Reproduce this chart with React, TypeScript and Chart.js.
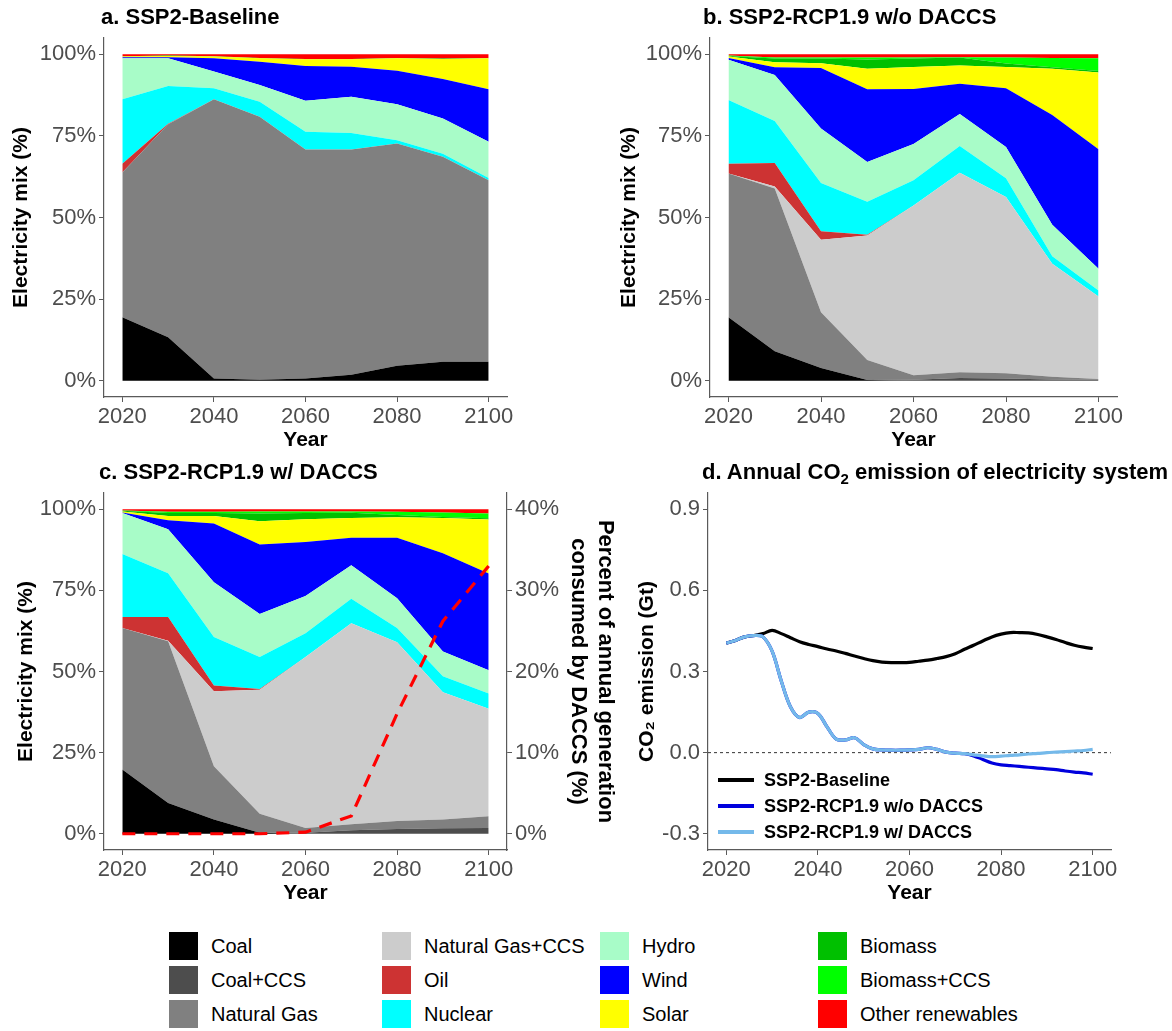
import React, { useEffect, useRef } from 'react';
import { Chart, registerables } from 'chart.js';

Chart.register(...registerables);

const FONT = "'Liberation Sans', Arial, Helvetica, sans-serif";
Chart.defaults.font.family = FONT;

// ---------- shared ----------
const YEARS = [2020, 2030, 2040, 2050, 2060, 2070, 2080, 2090, 2100];
const X_TICKS = [2020, 2040, 2060, 2080, 2100];
const PCT_TICKS = [0, 25, 50, 75, 100];
const DACCS_TICKS = [0, 10, 20, 30, 40];
const CO2_TICKS = [-0.3, 0, 0.3, 0.6, 0.9];
const ZERO_LINE = 0;

const CATEGORIES = [
  'Coal', 'Coal+CCS', 'Natural Gas', 'Natural Gas+CCS', 'Oil', 'Nuclear',
  'Hydro', 'Wind', 'Solar', 'Biomass', 'Biomass+CCS', 'Other renewables',
];
const COLORS = [
  '#000000', '#4d4d4d', '#808080', '#cccccc', '#cd3333', '#00ffff',
  '#a8fcc8', '#0000ff', '#ffff00', '#00c000', '#00ff00', '#ff0000',
];

// ---------- panel a: SSP2-Baseline (% of generation) ----------
const A_COAL = [19.4, 13.3, 0.7, 0.3, 0.7, 1.8, 4.6, 5.8, 5.8];
const A_COAL_CCS = [0, 0, 0, 0, 0, 0, 0, 0, 0];
const A_GAS = [44.4, 65.3, 85.5, 80.6, 70.1, 69.0, 68.1, 62.8, 55.6];
const A_GAS_CCS = [0, 0, 0, 0, 0, 0, 0, 0, 0];
const A_OIL = [2.7, 0.1, 0, 0, 0, 0, 0, 0, 0];
const A_NUCLEAR = [19.7, 11.6, 3.4, 4.6, 5.5, 5.1, 1.0, 0.9, 0.7];
const A_HYDRO = [12.6, 8.5, 5.1, 5.1, 9.5, 11.1, 11.0, 10.8, 11.1];
const A_WIND = [0.3, 0.3, 4.1, 7.1, 10.6, 9.2, 10.3, 12.1, 16.1];
const A_SOLAR = [0.2, 0.4, 0.5, 1.1, 2.1, 2.3, 3.8, 6.2, 9.5];
const A_BIOMASS = [0.1, 0.1, 0.1, 0.1, 0.1, 0.1, 0.1, 0.1, 0.1];
const A_BIOMASS_CCS = [0, 0, 0, 0, 0, 0, 0, 0, 0];
const A_OTHER = [0.6, 0.4, 0.6, 1.1, 1.4, 1.4, 1.1, 1.3, 1.1];

// ---------- panel b: SSP2-RCP1.9 w/o DACCS ----------
const B_COAL = [19.4, 9.0, 3.9, 0.2, 0, 0, 0, 0, 0];
const B_COAL_CCS = [0, 0, 0, 0, 0.3, 0.8, 0.7, 0.4, 0.3];
const B_GAS = [44.1, 49.9, 17.1, 6.1, 1.4, 1.8, 1.6, 0.8, 0.2];
const B_GAS_CCS = [0, 0.6, 22.2, 38.2, 52.0, 61.1, 54.0, 34.6, 25.3];
const B_OIL = [3.0, 7.2, 2.6, 0.2, 0, 0, 0, 0, 0];
const B_NUCLEAR = [19.5, 12.9, 14.8, 10.1, 7.7, 8.2, 5.7, 2.3, 1.8];
const B_HYDRO = [12.3, 14.1, 16.7, 12.2, 11.1, 9.8, 9.6, 9.7, 6.7];
const B_WIND = [0.6, 2.3, 18.5, 22.3, 16.9, 9.3, 18.0, 33.6, 36.6];
const B_SOLAR = [0.4, 1.6, 1.5, 6.3, 6.7, 5.6, 6.5, 14.2, 23.5];
const B_BIOMASS = [0.2, 1.1, 1.4, 2.8, 2.6, 2.4, 1.1, 0.4, 0.5];
const B_BIOMASS_CCS = [0.1, 0.3, 0.3, 0.6, 0.3, 0.1, 1.8, 2.9, 3.9];
const B_OTHER = [0.4, 1.0, 1.0, 1.0, 1.0, 0.9, 1.0, 1.1, 1.2];

// ---------- panel c: SSP2-RCP1.9 w/ DACCS ----------
const C_COAL = [19.8, 9.5, 4.4, 0.3, 0, 0, 0, 0, 0];
const C_COAL_CCS = [0, 0, 0, 0, 0.3, 1.1, 1.5, 1.7, 1.8];
const C_GAS = [43.6, 49.8, 16.4, 5.9, 1.5, 1.8, 2.4, 2.7, 3.6];
const C_GAS_CCS = [0, 0.2, 23.1, 38.2, 52.7, 62.0, 55.1, 39.2, 33.1];
const C_OIL = [3.4, 7.3, 1.8, 0.2, 0, 0, 0, 0, 0];
const C_NUCLEAR = [19.4, 13.5, 14.9, 9.9, 7.3, 7.5, 4.4, 4.9, 4.7];
const C_HYDRO = [12.6, 13.5, 16.9, 13.2, 11.5, 10.3, 9.2, 7.7, 7.2];
const C_WIND = [0.2, 2.8, 18.1, 21.4, 16.6, 8.5, 18.6, 30.2, 29.8];
const C_SOLAR = [0.3, 1.3, 2.3, 7.2, 7.0, 6.1, 6.3, 10.9, 16.6];
const C_BIOMASS = [0.2, 0.9, 0.9, 2.4, 1.9, 1.6, 0.7, 0.3, 0.4];
const C_BIOMASS_CCS = [0.1, 0.4, 0.4, 0.6, 0.5, 0.4, 1.0, 1.4, 1.5];
const C_OTHER = [0.4, 0.8, 0.8, 0.7, 0.7, 0.7, 0.8, 1.0, 1.3];
// percent of annual generation consumed by DACCS (right axis)
const C_DACCS = [0, 0, 0, 0, 0.2, 2.2, 14.8, 26.2, 33.0];

// ---------- panel d: annual CO2 emission (Gt) ----------
const D_YEARS = [
  2020, 2022, 2024, 2026, 2028, 2030, 2032, 2034, 2036, 2038, 2040,
  2042, 2044, 2046, 2048, 2050, 2052, 2054, 2056, 2058, 2060,
  2062, 2064, 2066, 2068, 2070, 2072, 2074, 2076, 2078, 2080,
  2082, 2084, 2086, 2088, 2090, 2092, 2094, 2096, 2098, 2100,
];
const D_BASELINE = [
  0.405, 0.415, 0.428, 0.433, 0.440, 0.452, 0.440, 0.425, 0.410, 0.400, 0.392,
  0.383, 0.376, 0.367, 0.357, 0.348, 0.340, 0.335, 0.333, 0.333, 0.334,
  0.338, 0.342, 0.348, 0.355, 0.366, 0.382, 0.397, 0.413, 0.428, 0.438,
  0.444, 0.444, 0.443, 0.437, 0.428, 0.418, 0.407, 0.397, 0.390, 0.385,
];
const D_NO_DACCS = [
  0.405, 0.415, 0.428, 0.433, 0.428, 0.375, 0.265, 0.170, 0.130, 0.150, 0.145,
  0.095, 0.050, 0.047, 0.055, 0.030, 0.014, 0.010, 0.009, 0.009, 0.010,
  0.012, 0.018, 0.012, 0.002, -0.002, -0.004, -0.012, -0.025, -0.038, -0.045,
  -0.048, -0.051, -0.054, -0.057, -0.060, -0.063, -0.068, -0.072, -0.075, -0.080,
];
const D_DACCS = [
  0.405, 0.415, 0.428, 0.433, 0.428, 0.375, 0.265, 0.170, 0.130, 0.150, 0.145,
  0.095, 0.050, 0.047, 0.055, 0.030, 0.014, 0.010, 0.009, 0.009, 0.010,
  0.012, 0.018, 0.012, 0.002, -0.002, -0.004, -0.008, -0.012, -0.015, -0.013,
  -0.010, -0.008, -0.005, -0.003, 0.000, 0.002, 0.004, 0.006, 0.008, 0.012,
];
const D_NAMES = ['SSP2-Baseline', 'SSP2-RCP1.9 w/o DACCS', 'SSP2-RCP1.9 w/ DACCS'];
const D_COLORS = ['#000000', '#0000dd', '#74b9ea'];

const A_SERIES = [A_COAL, A_COAL_CCS, A_GAS, A_GAS_CCS, A_OIL, A_NUCLEAR, A_HYDRO, A_WIND, A_SOLAR, A_BIOMASS, A_BIOMASS_CCS, A_OTHER];
const B_SERIES = [B_COAL, B_COAL_CCS, B_GAS, B_GAS_CCS, B_OIL, B_NUCLEAR, B_HYDRO, B_WIND, B_SOLAR, B_BIOMASS, B_BIOMASS_CCS, B_OTHER];
const C_SERIES = [C_COAL, C_COAL_CCS, C_GAS, C_GAS_CCS, C_OIL, C_NUCLEAR, C_HYDRO, C_WIND, C_SOLAR, C_BIOMASS, C_BIOMASS_CCS, C_OTHER];

// ---------- styles ----------
const TICK_COLOR = '#4d4d4d';
const AXIS_COLOR = '#5a5a5a';
const TICK_FONT = { size: 22, family: FONT };
const TITLE_FONT = { size: 21, weight: 'bold' as const, family: FONT };

const fixedTicks = (values: number[]) => (scale: any) => {
  scale.ticks = values.map((v) => ({ value: v }));
};

const axisCommon = {
  grid: { drawOnChartArea: false, drawTicks: true, tickLength: 5, color: AXIS_COLOR, lineWidth: 1 },
  border: { display: true, color: AXIS_COLOR, width: 1.2 },
};

function xScale(xHeight: number) {
  return {
    type: 'linear',
    min: 2016,
    max: 2104,
    afterBuildTicks: fixedTicks(X_TICKS),
    afterFit: (s: any) => { s.height = xHeight; },
    ...axisCommon,
    ticks: { font: TICK_FONT, color: TICK_COLOR, padding: 2, maxRotation: 0, autoSkip: false, callback: (v: any) => String(v) },
    title: { display: true, text: 'Year', font: TITLE_FONT, color: '#000', padding: { top: 0, bottom: 4 } },
  };
}

interface MixLayout {
  yWidth: number; xHeight: number; padTop: number; padRight: number; yTitlePad: number;
  daccs?: number[]; y2Width?: number;
}

function mixConfig(series: number[][], L: MixLayout): any {
  const datasets: any[] = series.map((vals, i) => ({
    type: 'line',
    label: CATEGORIES[i],
    data: YEARS.map((yr, j) => ({ x: yr, y: vals[j] })),
    backgroundColor: COLORS[i],
    borderColor: 'rgba(0,0,0,0)',
    borderWidth: 0,
    pointRadius: 0,
    pointHoverRadius: 0,
    tension: 0,
    fill: i === 0 ? 'origin' : '-1',
    yAxisID: 'y',
    stack: 'mix',
  }));
  const scales: any = {
    x: xScale(L.xHeight),
    y: {
      type: 'linear',
      stacked: true,
      min: -5,
      max: 105,
      afterBuildTicks: fixedTicks(PCT_TICKS),
      afterFit: (s: any) => { s.width = L.yWidth; },
      ...axisCommon,
      ticks: { font: TICK_FONT, color: TICK_COLOR, padding: 3, autoSkip: false, callback: (v: any) => `${v}%` },
      title: { display: true, text: 'Electricity mix (%)', font: TITLE_FONT, color: '#000', padding: { top: L.yTitlePad, bottom: 0 } },
    },
  };
  if (L.daccs) {
    datasets.push({
      type: 'line',
      label: 'DACCS',
      data: YEARS.map((yr, j) => ({ x: yr, y: L.daccs![j] })),
      borderColor: '#ff0000',
      borderWidth: 3.2,
      borderDash: [13, 9],
      pointRadius: 0,
      fill: false,
      tension: 0,
      yAxisID: 'y2',
      order: -1,
    });
    scales.y2 = {
      type: 'linear',
      position: 'right',
      min: -2,
      max: 42,
      afterBuildTicks: fixedTicks(DACCS_TICKS),
      afterFit: (s: any) => { s.width = L.y2Width; },
      ...axisCommon,
      ticks: { font: TICK_FONT, color: TICK_COLOR, padding: 3, autoSkip: false, callback: (v: any) => `${v}%` },
      title: {
        display: true,
        text: ['Percent of annual generation', 'consumed by DACCS (%)'],
        font: { size: 22, weight: 'bold', family: FONT },
        color: '#000',
        padding: { top: 2, bottom: 0 },
      },
    };
  }
  return {
    type: 'line',
    data: { datasets },
    options: {
      animation: false,
      responsive: false,
      maintainAspectRatio: false,
      layout: { padding: { top: L.padTop, right: L.padRight, left: 0, bottom: 0 } },
      plugins: { legend: { display: false }, tooltip: { enabled: false }, title: { display: false } },
      scales,
    },
  };
}

const zeroLinePlugin = {
  id: 'zeroLine',
  beforeDatasetsDraw(chart: any) {
    const { ctx, chartArea, scales } = chart;
    const y = scales.y.getPixelForValue(ZERO_LINE);
    ctx.save();
    ctx.strokeStyle = '#333333';
    ctx.lineWidth = 1;
    ctx.setLineDash([3, 3]);
    ctx.beginPath();
    ctx.moveTo(chartArea.left, y);
    ctx.lineTo(chartArea.right, y);
    ctx.stroke();
    ctx.restore();
  },
};

function co2Config(): any {
  const series = [D_BASELINE, D_NO_DACCS, D_DACCS];
  const datasets = series.map((vals, i) => ({
    type: 'line',
    label: D_NAMES[i],
    data: D_YEARS.map((yr, j) => ({ x: yr, y: vals[j] })),
    borderColor: D_COLORS[i],
    borderWidth: 3.2,
    pointRadius: 0,
    fill: false,
    tension: 0.35,
    order: 3 - i,
  }));
  return {
    type: 'line',
    data: { datasets },
    plugins: [zeroLinePlugin],
    options: {
      animation: false,
      responsive: false,
      maintainAspectRatio: false,
      layout: { padding: { top: 33, right: 61, left: 0, bottom: 0 } },
      plugins: { legend: { display: false }, tooltip: { enabled: false } },
      scales: {
        x: xScale(60),
        y: {
          type: 'linear',
          min: -0.36,
          max: 0.96,
          afterBuildTicks: fixedTicks(CO2_TICKS),
          afterFit: (s: any) => { s.width = 88; },
          ...axisCommon,
          ticks: { font: TICK_FONT, color: TICK_COLOR, padding: 3, autoSkip: false, callback: (v: any) => Number(v).toFixed(1) },
          title: { display: true, text: 'CO₂ emission (Gt)', font: TITLE_FONT, color: '#000', padding: { top: 15, bottom: 0 } },
        },
      },
    },
  };
}

function ChartCanvas(props: { left: number; top: number; width: number; height: number; make: () => any }) {
  const ref = useRef<HTMLCanvasElement>(null);
  useEffect(() => {
    const chart = new Chart(ref.current as HTMLCanvasElement, props.make());
    return () => chart.destroy();
  }, []);
  return (
    <canvas
      ref={ref}
      width={props.width}
      height={props.height}
      style={{ position: 'absolute', left: props.left, top: props.top, width: props.width, height: props.height }}
    />
  );
}

const titleStyle = (left: number, top: number): React.CSSProperties => ({
  position: 'absolute', left, top, font: `bold 22px ${FONT}`, color: '#000', whiteSpace: 'nowrap', lineHeight: '24px',
});

const LEGEND_COLS = [169, 382, 600, 818];
const LEGEND_ROWS = [932, 966, 1000];

export default function App() {
  return (
    <div style={{ position: 'absolute', left: 0, top: 0, width: 1172, height: 1031, background: '#fff', overflow: 'hidden' }}>
      <ChartCanvas left={0} top={0} width={590} height={457}
        make={() => mixConfig(A_SERIES, { yWidth: 104, xHeight: 60, padTop: 38, padRight: 83, yTitlePad: 9 })} />
      <ChartCanvas left={590} top={0} width={582} height={457}
        make={() => mixConfig(B_SERIES, { yWidth: 120, xHeight: 60, padTop: 38, padRight: 55, yTitlePad: 27 })} />
      <ChartCanvas left={0} top={460} width={620} height={450}
        make={() => mixConfig(C_SERIES, { yWidth: 104, xHeight: 60, padTop: 33, padRight: 0, yTitlePad: 14, daccs: C_DACCS, y2Width: 113 })} />
      <ChartCanvas left={620} top={460} width={552} height={450} make={co2Config} />

      <div style={titleStyle(101, 5)}>a. SSP2-Baseline</div>
      <div style={titleStyle(703, 5)}>b. SSP2-RCP1.9 w/o DACCS</div>
      <div style={titleStyle(99, 460)}>c. SSP2-RCP1.9 w/ DACCS</div>
      <div style={titleStyle(702, 460)}>
        d. Annual CO<span style={{ fontSize: 15, position: 'relative', top: 5 }}>2</span> emission of electricity system
      </div>

      {D_NAMES.map((name, i) => (
        <div key={name} style={{ position: 'absolute', left: 718, top: 767 + i * 26, height: 26, display: 'flex', alignItems: 'center' }}>
          <div style={{ width: 36, height: 3.5, background: D_COLORS[i] }} />
          <div style={{ marginLeft: 10, font: `bold 18px ${FONT}`, color: '#000', whiteSpace: 'nowrap' }}>{name}</div>
        </div>
      ))}

      {CATEGORIES.map((name, i) => {
        const col = Math.floor(i / 3);
        const row = i % 3;
        return (
          <div key={name} style={{ position: 'absolute', left: LEGEND_COLS[col], top: LEGEND_ROWS[row], height: 28, display: 'flex', alignItems: 'center' }}>
            <div style={{ width: 29, height: 28, background: COLORS[i] }} />
            <div style={{ marginLeft: 13, font: `20px ${FONT}`, color: '#000', whiteSpace: 'nowrap' }}>{name}</div>
          </div>
        );
      })}
    </div>
  );
}
